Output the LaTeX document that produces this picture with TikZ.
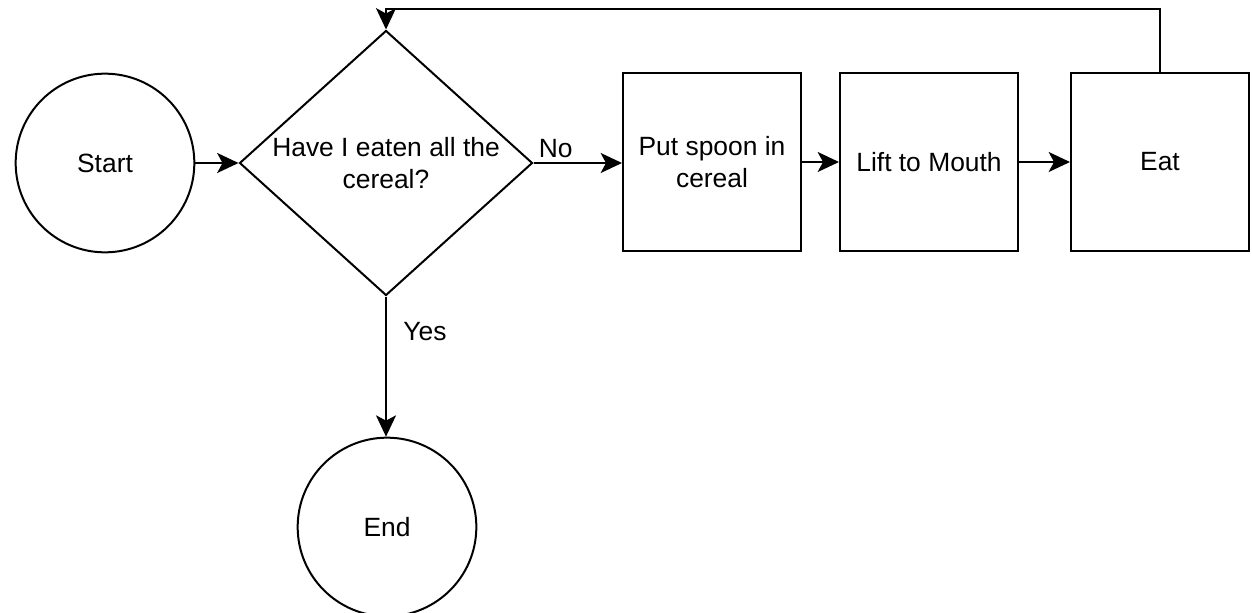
\documentclass[tikz,border=0pt]{standalone}
\usepackage{fontspec}
\setmainfont{Liberation Sans}
\usetikzlibrary{shapes.geometric,arrows.meta}
\begin{document}
\begin{tikzpicture}[x=0.75pt,y=-0.75pt,
  every node/.style={font=\fontsize{19.8}{23.5}\selectfont},
  line/.style={draw, line width=1.5pt},
  arr/.style={line, -{Stealth[length=16pt,width=15pt,inset=4pt]}},
  circ/.style={circle, draw, line width=1.5pt, minimum size=134pt, inner sep=0pt},
  boxn/.style={rectangle, draw, line width=1.5pt, minimum width=133.5pt, minimum height=133.5pt, align=center, inner sep=0pt},
  dia/.style={diamond, draw, line width=1.5pt, minimum width=219.75pt, minimum height=198.75pt, aspect=1.1, inner sep=0pt}
]
\useasboundingbox (0,0) rectangle (1252,613);
\begin{scope}
\clip (0,0) rectangle (1252,613);
\node[circ] (start) at (105,163) {Start};
\node[dia] (dec) at (386,163) {};
\node[align=center] (dectext) at (386,163) {Have I eaten all the\\cereal?};
\node[boxn] (put) at (712,162) {Put spoon in\\cereal};
\node[boxn] (lift) at (929,162) {Lift to Mouth};
\node[boxn] (eat) at (1160,162) {Eat};
\node[circ] (end) at (387,527) {End};
\coordinate (c1) at (1160,9);
\coordinate (c2) at (386,9);
\draw[arr] (start) -- (dec.west);
\draw[arr] (dec.east) -- node[above, pos=0.25] (no) {No} (put.west |- dec.east);
\draw[arr] (put) -- (lift);
\draw[arr] (lift) -- (eat);
\draw[arr] (eat.north) -- (c1) -- (c2) -- (dec.north);
\draw[arr] (dec.south) -- node[right, pos=0.25, xshift=9pt] (yes) {Yes} (end.north -| dec.south);
\end{scope}
\end{tikzpicture}
\end{document}
